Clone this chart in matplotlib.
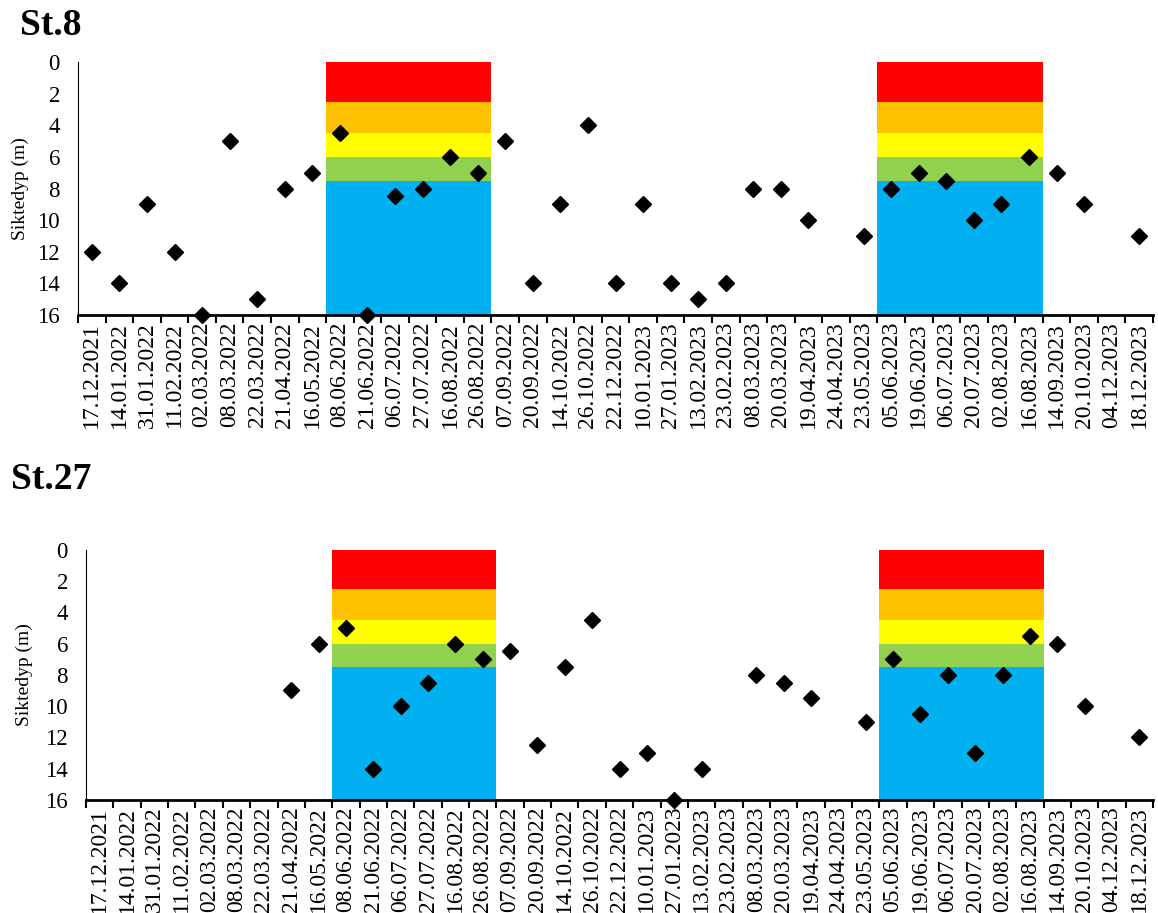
import numpy as np
import matplotlib.pyplot as plt

dates = ["17.12.2021", "14.01.2022", "31.01.2022", "11.02.2022", "02.03.2022",
         "08.03.2022", "22.03.2022", "21.04.2022", "16.05.2022", "08.06.2022",
         "21.06.2022", "06.07.2022", "27.07.2022", "16.08.2022", "26.08.2022",
         "07.09.2022", "20.09.2022", "14.10.2022", "26.10.2022", "22.12.2022",
         "10.01.2023", "27.01.2023", "13.02.2023", "23.02.2023", "08.03.2023",
         "20.03.2023", "19.04.2023", "24.04.2023", "23.05.2023", "05.06.2023",
         "19.06.2023", "06.07.2023", "20.07.2023", "02.08.2023", "16.08.2023",
         "14.09.2023", "20.10.2023", "04.12.2023", "18.12.2023"]

nan = np.nan
st8 = [12, 14, 9, 12, 16, 5, 15, 8, 7, 4.5,
       16, 8.5, 8, 6, 7, 5, 14, 9, 4, 14,
       9, 14, 15, 14, 8, 8, 10, nan, 11, 8,
       7, 7.5, 10, 9, 6, 7, 9, nan, 11]
st27 = [nan, nan, nan, nan, nan, nan, nan, 9, 6, 5,
        14, 10, 8.5, 6, 7, 6.5, 12.5, 7.5, 4.5, 14,
        13, 16, 14, nan, 8, 8.5, 9.5, nan, 11, 7,
        10.5, 8, 13, 8, 5.5, 6, 10, nan, 12]

# summer periods with classification bands
periods = [("08.06.2022", "26.08.2022"), ("05.06.2023", "16.08.2023")]
band_limits = [0, 2.5, 4.5, 6, 7.5, 16]
band_colors = ["#FF0000", "#FFC000", "#FFFF00", "#92D050", "#00B0F0"]

plt.rcParams['font.family'] = ['Liberation Serif', 'DejaVu Serif']

fig = plt.figure(figsize=(11.58, 9.13), dpi=100)
ax1 = fig.add_axes([0.0674, 0.655, 0.9283, 0.277])
ax2 = fig.add_axes([0.0743, 0.124, 0.9214, 0.2738])

x = np.arange(len(dates))


def draw(ax, values):
    for start, end in periods:
        i0, i1 = dates.index(start), dates.index(end)
        xs = x[i0:i1 + 1]
        for k, col in enumerate(band_colors):
            lo, hi = band_limits[k], band_limits[k + 1]
            ax.bar(xs, [hi - lo] * len(xs), bottom=lo, width=1.0,
                   color=col, linewidth=0, zorder=1)
    ax.plot(x, values, linestyle="none", marker="D", markersize=8.5,
            color="black", zorder=5, clip_on=False)
    ax.set_xlim(-0.5, len(dates) - 0.5)
    ax.set_ylim(16, 0)
    ax.set_yticks(range(0, 17, 2))
    ax.set_xticks(x)
    ax.set_xticklabels(dates, rotation=90)
    ax.set_xticks(np.arange(-0.5, len(dates)), minor=True)
    ax.tick_params(axis="x", which="major", length=0, labelsize=17, pad=5)
    ax.tick_params(axis="x", which="minor", length=6, width=1.5, direction="out")
    ax.tick_params(axis="y", length=0, labelsize=16.5, pad=13)
    ax.spines["top"].set_visible(False)
    ax.spines["right"].set_visible(False)
    ax.spines["bottom"].set_linewidth(2)
    ax.spines["bottom"].set_zorder(4)
    ax.set_ylabel("Siktedyp (m)", fontsize=14)


draw(ax1, st8)
draw(ax2, st27)
ax1.yaxis.set_label_coords(-0.046, 0.5)
ax2.yaxis.set_label_coords(-0.050, 0.5)

fig.text(20 / 1158, 1 - 8 / 913, "St.8", fontsize=27, fontweight="bold",
         ha="left", va="top")
fig.text(11 / 1158, 1 - 462 / 913, "St.27", fontsize=27, fontweight="bold",
         ha="left", va="top")

fig.savefig("out.png", dpi=100)
